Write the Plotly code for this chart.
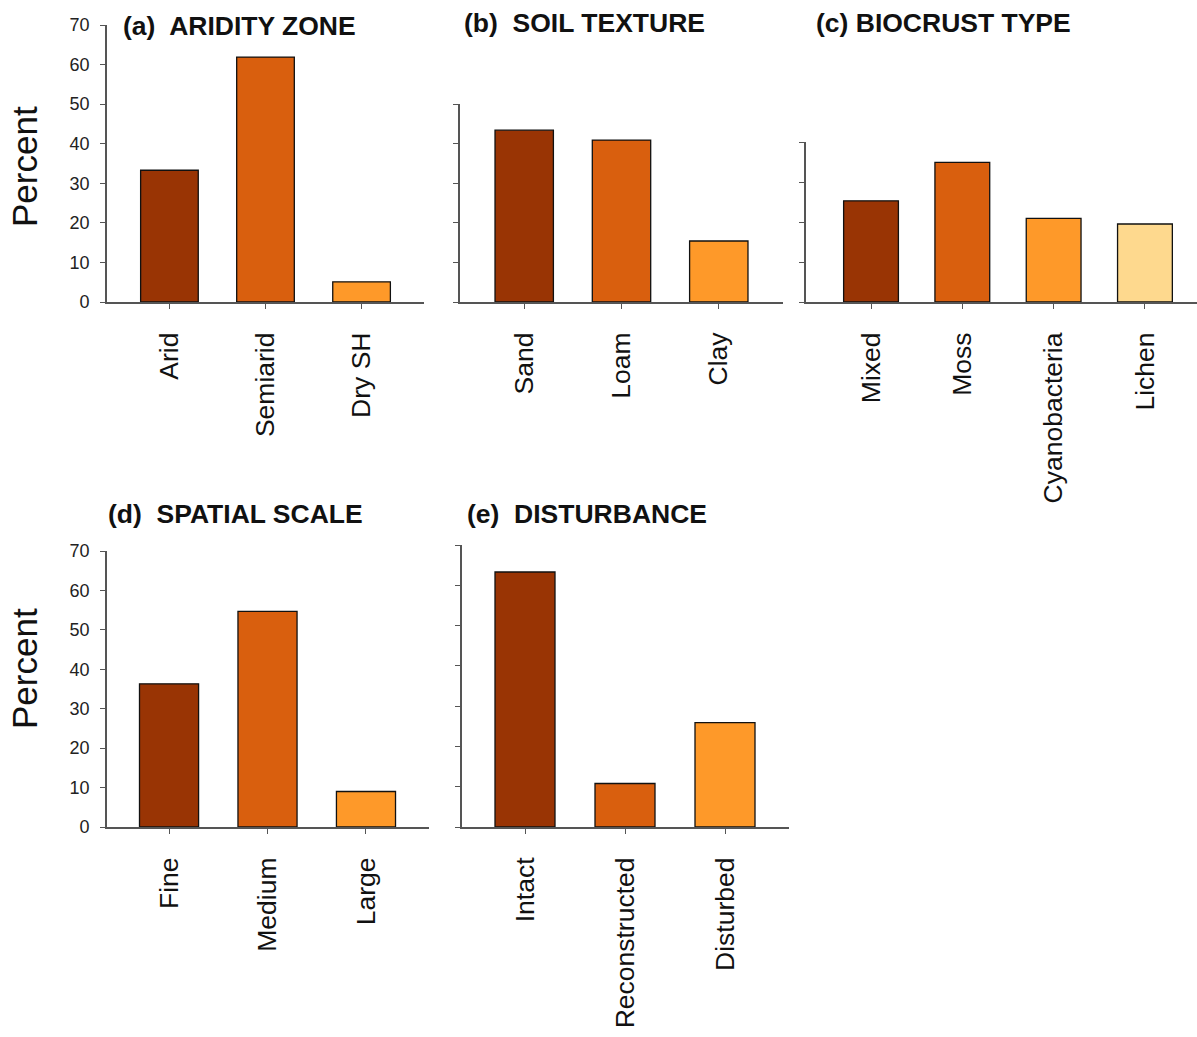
import plotly.graph_objects as go

# Share of studies (%) by category, one panel per factor
aridity_labels = ["Arid", "Semiarid", "Dry SH"]
aridity_pct = [33.3, 61.9, 5.1]

soil_labels = ["Sand", "Loam", "Clay"]
soil_pct = [43.4, 40.9, 15.4]

biocrust_labels = ["Mixed", "Moss", "Cyanobacteria", "Lichen"]
biocrust_pct = [25.3, 34.9, 20.9, 19.5]

scale_labels = ["Fine", "Medium", "Large"]
scale_pct = [36.3, 54.7, 9.0]

disturb_labels = ["Intact", "Reconstructed", "Disturbed"]
disturb_pct = [63.3, 10.8, 25.9]

y_ticks = [0, 10, 20, 30, 40, 50, 60, 70]

palette = ["#993404", "#d95f0e", "#fe9929", "#fed98e"]

W, H = 1197, 1037
FONT = "Arial, Liberation Sans, sans-serif"
AXIS_COLOR = "#555555"


def px_x(v):
    return v / W


def px_y(v):
    return 1 - v / H


# panel: (title, labels, values, x-domain px, y top px, y bottom px, y max, x range, show y labels, title pos)
panels = [
    ("(a)  ARIDITY ZONE", aridity_labels, aridity_pct, (107, 424), 25, 302, 70, (-0.65, 2.65), True, (121, 26)),
    ("(b)  SOIL TEXTURE", soil_labels, soil_pct, (460, 783), 104, 302, 50, (-0.66, 2.66), False, (462, 23)),
    ("(c) BIOCRUST TYPE", biocrust_labels, biocrust_pct, (806, 1197), 142, 302, 40, (-0.712, 3.57), False, (814, 23)),
    ("(d)  SPATIAL SCALE", scale_labels, scale_pct, (107, 429), 551, 827, 70, (-0.63, 2.64), True, (106, 514)),
    ("(e)  DISTURBANCE", disturb_labels, disturb_pct, (462, 789), 545, 827, 70, (-0.63, 2.64), False, (465, 514)),
]

fig = go.Figure()
annotations = []
layout_axes = {}

for i, (title, labels, vals, xd, ytop, ybot, ymax, xr, ylab, tpos) in enumerate(panels, start=1):
    sfx = "" if i == 1 else str(i)
    fig.add_trace(go.Bar(
        x=list(range(len(labels))),
        y=vals,
        width=0.6,
        marker=dict(color=palette[:len(labels)], line=dict(color="#111111", width=1.3)),
        xaxis="x" + sfx,
        yaxis="y" + sfx,
        showlegend=False,
        hovertemplate="%{text}: %{y:.1f}%<extra></extra>",
        text=labels,
        textposition="none",
    ))
    layout_axes["xaxis" + sfx] = dict(
        domain=[px_x(xd[0]), px_x(xd[1])],
        anchor="y" + sfx,
        range=list(xr),
        automargin=False,
        tickmode="array",
        tickvals=list(range(len(labels))),
        ticktext=labels,
        tickangle=-90,
        ticks="outside",
        ticklen=5,
        tickwidth=1.3,
        tickcolor=AXIS_COLOR,
        ticklabelstandoff=13,
        showline=True,
        linecolor=AXIS_COLOR,
        linewidth=1.8,
        showgrid=False,
        zeroline=False,
        tickfont=dict(family=FONT, size=26.5, color="#111111"),
    )
    layout_axes["yaxis" + sfx] = dict(
        domain=[px_y(ybot), px_y(ytop)],
        anchor="x" + sfx,
        range=[0, ymax],
        automargin=False,
        tickmode="array",
        tickvals=[t for t in y_ticks if t <= ymax],
        showticklabels=ylab,
        ticks="outside",
        ticklen=5,
        tickwidth=1.3,
        tickcolor=AXIS_COLOR,
        ticklabelstandoff=7,
        showline=True,
        linecolor=AXIS_COLOR,
        linewidth=1.8,
        showgrid=False,
        zeroline=False,
        tickfont=dict(family=FONT, size=18, color="#222222"),
    )
    annotations.append(dict(
        text="<b>%s</b>" % title,
        xref="paper", yref="paper",
        x=px_x(tpos[0]), y=px_y(tpos[1]),
        xanchor="left", yanchor="middle",
        showarrow=False,
        font=dict(family=FONT, size=26.5, color="#111111"),
    ))

# shared y-axis titles for each row
for yc in (167, 669):
    annotations.append(dict(
        text="Percent",
        xref="paper", yref="paper",
        x=px_x(24), y=px_y(yc),
        xanchor="center", yanchor="middle",
        textangle=-90,
        showarrow=False,
        font=dict(family=FONT, size=35, color="#111111"),
    ))

fig.update_layout(
    width=W, height=H,
    margin=dict(l=0, r=0, t=0, b=0, autoexpand=False),
    paper_bgcolor="white",
    plot_bgcolor="white",
    annotations=annotations,
    **layout_axes,
)

fig.write_html("out.html")
